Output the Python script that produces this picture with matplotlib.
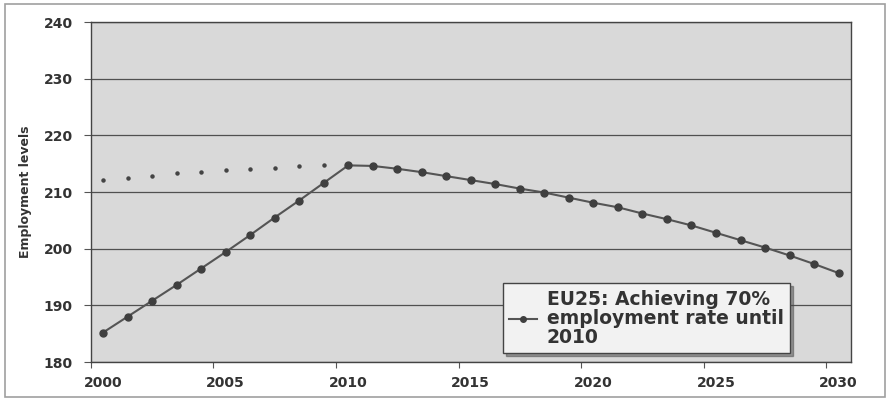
import matplotlib
matplotlib.use("Agg")
import matplotlib.pyplot as plt
from matplotlib.patches import Rectangle

# employment levels (millions), EU25 scenario
years = list(range(2000, 2031))
employment = [185.2, 188.0, 190.8, 193.6, 196.5, 199.4, 202.4, 205.5, 208.5, 211.6,
              214.7, 214.6, 214.1, 213.5, 212.8, 212.1, 211.4, 210.6, 209.9, 209.0,
              208.1, 207.3, 206.2, 205.2, 204.1, 202.8, 201.5, 200.2, 198.8, 197.3,
              195.7]
# trend of the first decade, shown as small dots only
trend_years = list(range(2000, 2010))
trend = [212.1, 212.5, 212.9, 213.3, 213.6, 213.8, 214.0, 214.3, 214.6, 214.7]
series_label = "EU25: Achieving 70%\nemployment rate until\n2010"
y_label = "Employment levels"

textCol = "#333333"
plt.rcParams["font.family"] = ["DejaVu Sans"]
plt.rcParams["font.weight"] = "bold"
plt.rcParams["axes.labelweight"] = "bold"

fig = plt.figure(figsize=(8.9, 4.0), dpi=100)
ax = fig.add_axes([0.102, 0.095, 0.854, 0.85])
ax.set_facecolor("#d9d9d9")

# outer chart frame
fig.patches.append(Rectangle((5/890, 3/400), 880/890, 393/400, transform=fig.transFigure,
                             fill=False, edgecolor="#a0a0a0", lw=1.2))

ax.plot(trend_years, trend, linestyle="none", marker="o", markersize=2.2, color="#444444")
ax.plot(years, employment, color="#555555", lw=1.5, marker="o", markersize=5,
        markerfacecolor="#3f3f3f", markeredgecolor="#3f3f3f", label=series_label)

ax.set_ylim(180, 240)
ax.set_yticks(range(180, 241, 10))
ax.yaxis.grid(True, color="#505050", lw=0.9)
ax.set_axisbelow(True)
ax.set_xlim(1999.5, 2030.5)

# tick marks between categories, labels on the years
ax.set_xticks([y - 0.5 for y in range(2000, 2031, 5)])
ax.set_xticklabels([])
ax.set_xticks(list(range(2000, 2031, 5)), minor=True)
ax.set_xticklabels([str(y) for y in range(2000, 2031, 5)], minor=True)
ax.tick_params(axis="x", which="major", length=4, color="#555555", direction="out")
ax.tick_params(axis="x", which="minor", length=0, pad=10, labelsize=10, labelcolor=textCol)
ax.tick_params(axis="y", length=5, color="#555555", pad=8, labelsize=10, labelcolor=textCol)

for s in ax.spines.values():
    s.set_color("#444444")
    s.set_linewidth(1.0)

ax.set_ylabel(y_label, fontsize=9, color=textCol, labelpad=8)

leg = ax.legend(loc="lower left", bbox_to_anchor=(0.542, 0.026), fontsize=13.5,
                frameon=True, fancybox=False, shadow=True, handlelength=1.5,
                handletextpad=0.5, borderpad=0.35, labelspacing=0.2, borderaxespad=0,
                markerscale=0.8)
leg.get_frame().set_facecolor("#f2f2f2")
leg.get_frame().set_edgecolor("#444444")
leg.get_frame().set_alpha(1)
for t in leg.get_texts():
    t.set_color(textCol)
    t.set_linespacing(1.0)

fig.savefig("out.png", dpi=100)
